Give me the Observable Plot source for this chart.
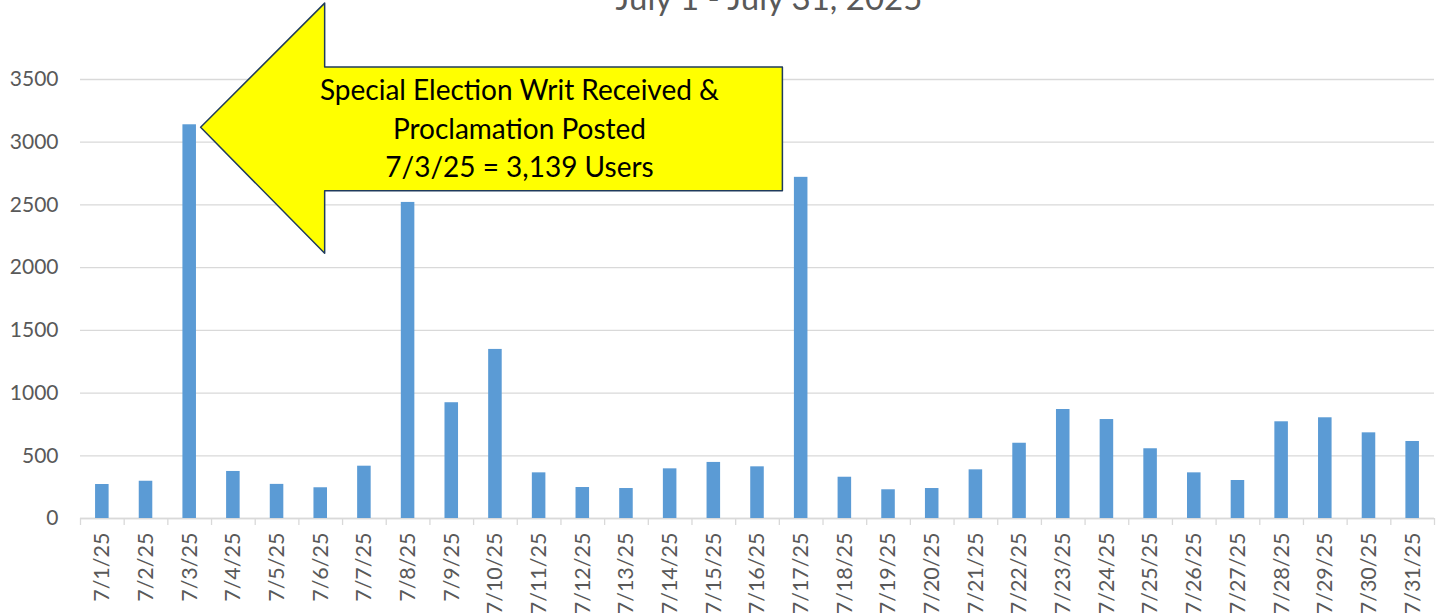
<!DOCTYPE html>
<html>
<head>
<meta charset="utf-8">
<script src="https://cdn.jsdelivr.net/npm/d3@7"></script>
<script src="https://cdn.jsdelivr.net/npm/@observablehq/plot@0.6"></script>
<style>
  html, body { margin: 0; padding: 0; background: #fff; overflow: hidden; }
  #wrap { position: relative; width: 1442px; height: 615px; }
  #subtitle { position: absolute; top: -19px; left: 769px; transform: translateX(-50%);
    font-family: Lato, "Open Sans", sans-serif; font-size: 33px; line-height: 1; color: #595959; white-space: nowrap; }
</style>
</head>
<body>
<div id="wrap">
  <div id="subtitle">July 1 - July 31, 2025</div>
</div>
<script>
const dateLabels = ["7/1/25","7/2/25","7/3/25","7/4/25","7/5/25","7/6/25","7/7/25","7/8/25","7/9/25","7/10/25",
  "7/11/25","7/12/25","7/13/25","7/14/25","7/15/25","7/16/25","7/17/25","7/18/25","7/19/25","7/20/25",
  "7/21/25","7/22/25","7/23/25","7/24/25","7/25/25","7/26/25","7/27/25","7/28/25","7/29/25","7/30/25","7/31/25"];
const users = [271,297,3139,375,272,245,417,2520,923,1348,
  364,247,239,396,447,412,2720,329,229,239,
  388,600,869,789,556,364,303,771,803,683,614];
const yTicks = [0,500,1000,1500,2000,2500,3000,3500];
const calloutLines = ["Special Election Writ Received &", "Proclamation Posted", "7/3/25 = 3,139 Users"];
const calloutIndex = 2; // 7/3/25

const data = dateLabels.map((label, i) => ({day: i + 1, label, value: users[i]}));

// Callout arrow built from the highlighted bar (day, value) in data units
const pk = data[calloutIndex];
const arrow = [
  {x: pk.day + 0.25, y: pk.value - 20},
  {x: pk.day + 3.09, y: pk.value + 970},
  {x: pk.day + 3.09, y: pk.value + 460},
  {x: pk.day + 13.57, y: pk.value + 460},
  {x: pk.day + 13.57, y: pk.value - 525},
  {x: pk.day + 3.09, y: pk.value - 525},
  {x: pk.day + 3.09, y: pk.value - 1025},
  {x: pk.day + 0.25, y: pk.value - 20}
];

const font = "Lato, 'Open Sans', sans-serif";
const chart = Plot.plot({
  width: 1442,
  height: 615,
  marginLeft: 80,
  marginRight: 8,
  marginTop: 79,
  marginBottom: 97,
  style: {fontFamily: font, background: "transparent", overflow: "visible"},
  x: {domain: [0.5, 31.5]},
  y: {domain: [0, 3500]},
  marks: [
    Plot.gridY(yTicks, {stroke: "#d9d9d9", strokeOpacity: 1, strokeWidth: 1.3}),
    Plot.axisY(yTicks, {tickSize: 0, tickPadding: 22, fontSize: 21, fill: "#595959", label: null, tickFormat: d => String(d)}),
    Plot.axisX(d3.range(0.5, 32, 1), {tickSize: 7, stroke: "#d9d9d9", strokeWidth: 1.3, tickFormat: () => "", label: null}),
    Plot.axisX(data.map(d => d.day), {tickSize: 0, tickPadding: 14, tickRotate: -90, fontSize: 21.5, fill: "#595959",
      tickFormat: d => dateLabels[d - 1], label: null}),
    Plot.ruleY([0], {stroke: "#d9d9d9", strokeWidth: 1.3}),
    Plot.rectY(data, {x1: d => d.day - 0.155, x2: d => d.day + 0.155, y: "value", fill: "#5B9BD5"}),
    Plot.line(arrow, {x: "x", y: "y", fill: "#FFFF00", stroke: "#1F3B5C", strokeWidth: 1.5, curve: "linear-closed"}),
    Plot.text([calloutLines.join("\n")], {x: pk.day + 7.55, y: pk.value - 12, text: d => d, fontSize: 28,
      lineHeight: 1.37, fill: "#000", fontFamily: font, textAnchor: "middle"})
  ]
});
document.getElementById("wrap").prepend(chart);
</script>
</body>
</html>
